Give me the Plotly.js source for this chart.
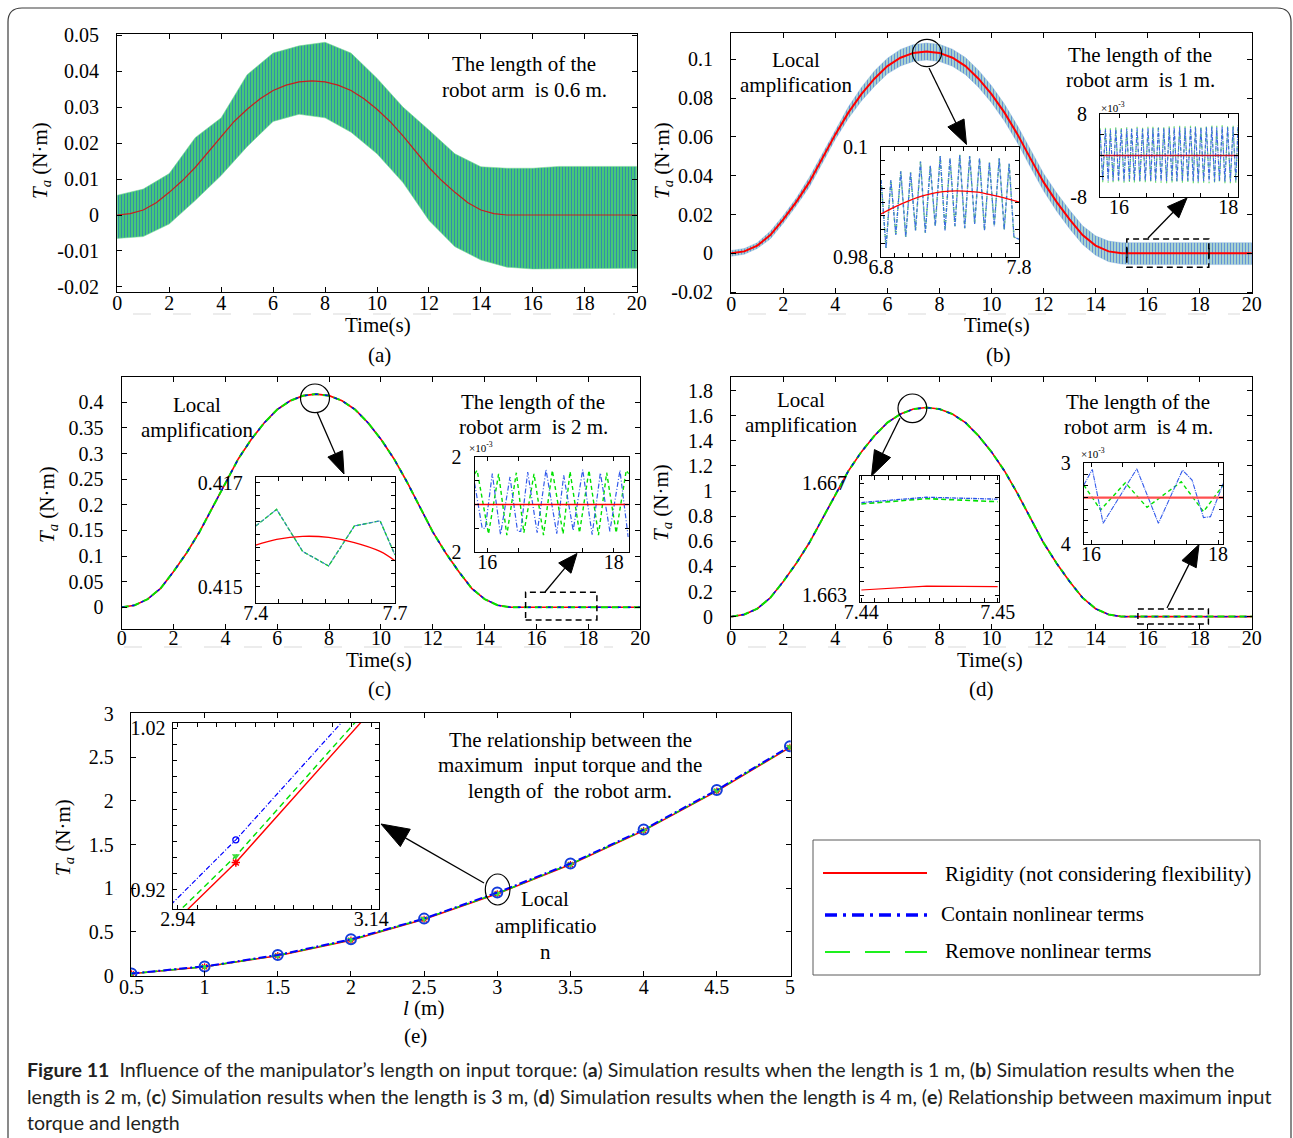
<!DOCTYPE html>
<html><head><meta charset="utf-8">
<script src="https://cdn.plot.ly/plotly-3.0.1.min.js"></script>
<style>html,body{margin:0;padding:0;background:#fff;}#chart{width:1293px;height:1138px;}</style>
</head><body><div id="chart"></div>
<script>
// ---------------- DATA ----------------
const T05 = [0,0.5,1,1.5,2,2.5,3,3.5,4,4.5,5,5.5,6,6.5,7,7.5,8,8.5,9,9.5,10,10.5,11,11.5,12,12.5,13,13.5,14,14.5,15,15.5,16,16.5,17,17.5,18,18.5,19,19.5,20];
const T1 = [0,1,2,3,4,5,6,7,8,9,10,11,12,13,14,15,16,17,18,19,20];

// (a) l = 0.6 m
const aRigid = [0,0.0004,0.0014,0.0034,0.0063,0.0095,0.0132,0.0175,0.022,0.026,0.0294,0.0323,0.0346,0.0361,0.037,0.0373,0.037,0.0361,0.0346,0.0323,0.0294,0.026,0.022,0.0175,0.0132,0.0095,0.0063,0.0034,0.0014,0.0004,0,0,0,0,0,0,0,0,0,0,0];
const aFlexUpper = [0.0055,0.0072,0.0115,0.0215,0.027,0.039,0.045,0.047,0.048,0.045,0.038,0.030,0.0236,0.017,0.0134,0.013,0.013,0.0135,0.0135,0.0135,0.0135];
const aFlexLower = [-0.0065,-0.006,-0.0025,0.004,0.011,0.019,0.026,0.028,0.027,0.023,0.017,0.009,-0.0015,-0.0088,-0.0125,-0.0145,-0.015,-0.015,-0.0148,-0.015,-0.0148];

// (b) l = 1 m
const bRigid = [0,0.001,0.004,0.0094,0.0175,0.0265,0.0367,0.0488,0.0613,0.0725,0.082,0.09,0.0965,0.1008,0.1033,0.104,0.1033,0.1008,0.0965,0.09,0.082,0.0725,0.0613,0.0488,0.0367,0.0265,0.0175,0.0094,0.004,0.001,0,0,0,0,0,0,0,0,0,0,0];
const bFlexUpper = [0.0015,0.0025,0.0055,0.0114,0.0195,0.0285,0.0392,0.0513,0.0638,0.0755,0.0855,0.094,0.1005,0.1051,0.1076,0.1084,0.1077,0.1052,0.1009,0.0944,0.0864,0.0769,0.0657,0.0533,0.0412,0.0312,0.0223,0.0142,0.009,0.0063,0.0055,0.0055,0.0055,0.0055,0.0055,0.0055,0.0055,0.0055,0.0055,0.0055,0.0055];
const bFlexLower = [-0.0015,-0.0005,0.0025,0.0074,0.0155,0.0245,0.0342,0.0463,0.0588,0.0695,0.0785,0.086,0.0925,0.0965,0.0989,0.0996,0.0989,0.0964,0.0921,0.0856,0.0776,0.0681,0.0569,0.0443,0.0322,0.0218,0.0127,0.0046,-0.001,-0.0043,-0.0055,-0.0058,-0.0058,-0.0058,-0.0058,-0.0058,-0.0058,-0.0058,-0.0058,-0.0058,-0.0058];
const b1T = [6.800,6.836,6.871,6.907,6.943,6.979,7.014,7.050,7.086,7.121,7.157,7.193,7.229,7.264,7.300,7.336,7.371,7.407,7.443,7.479,7.514,7.550,7.586,7.621,7.657,7.693,7.729,7.764,7.800];
const b1Flex = [0.0994,0.09816,0.0994,0.0984,0.09956,0.09836,0.09954,0.09848,0.09974,0.09844,0.09966,0.09856,0.09984,0.09848,0.0998,0.09856,0.09986,0.09852,0.09984,0.0986,0.0998,0.09848,0.09972,0.09856,0.0998,0.0985,0.0997,0.09836,0.09832];
const b1RT = [6.8,6.9,7.0,7.1,7.2,7.3,7.4,7.5,7.6,7.7,7.8];
const b1Rigid = [0.09878,0.09891,0.09902,0.09911,0.09917,0.0992,0.0992,0.09918,0.09913,0.09907,0.099];
const b2T = [15.65,15.70,15.75,15.80,15.84,15.89,15.94,15.99,16.04,16.09,16.14,16.19,16.23,16.28,16.33,16.38,16.43,16.48,16.53,16.58,16.62,16.67,16.72,16.77,16.82,16.87,16.92,16.97,17.01,17.06,17.11,17.16,17.21,17.26,17.31,17.36,17.40,17.45,17.50,17.55,17.60,17.65,17.70,17.75,17.79,17.84,17.89,17.94,17.99,18.04,18.09,18.14,18.18];
const b2Blue = [5.0,-4.8,5.1,-4.9,5.0,-4.9,5.2,-4.8,5.1,-5.0,5.2,-4.9,5.2,-4.9,5.3,-5.0,5.2,-4.9,5.3,-5.0,5.3,-4.9,5.4,-5.0,5.3,-5.0,5.4,-4.9,5.4,-5.0,5.5,-5.0,5.4,-4.9,5.5,-5.0,5.5,-5.1,5.4,-5.0,5.5,-5.0,5.6,-5.1,5.5,-5.0,5.6,-5.1,5.5,-5.1,5.6,-5.0,5.6];
const b2Green = [5.3,-5.2,5.4,-5.3,5.3,-5.2,5.5,-5.3,5.4,-5.3,5.5,-5.2,5.5,-5.3,5.6,-5.3,5.5,-5.2,5.6,-5.3,5.6,-5.3,5.7,-5.3,5.6,-5.4,5.7,-5.3,5.7,-5.3,5.8,-5.4,5.7,-5.3,5.8,-5.4,5.8,-5.4,5.7,-5.3,5.8,-5.4,5.9,-5.4,5.8,-5.3,5.9,-5.4,5.8,-5.4,5.9,-5.3,5.9];
const b2RT = [15.65,18.18];
const b2Rigid = [0,0];

// (c) l = 2 m
const cRigid = [0,0.004,0.016,0.037,0.07,0.106,0.147,0.195,0.245,0.29,0.328,0.36,0.386,0.403,0.413,0.416,0.413,0.403,0.386,0.36,0.328,0.29,0.245,0.195,0.147,0.106,0.07,0.037,0.016,0.004,0,0,0,0,0,0,0,0,0,0,0];
const cFlex = cRigid;
const c1T = [7.4,7.445,7.501,7.557,7.6125,7.668,7.7];
const c1Flex = [0.41617,0.41649,0.41568,0.4154,0.41617,0.41627,0.41561];
const c1Rigid = [0.4158,0.41591,0.41597,0.41595,0.41585,0.41568,0.4155];
const c2BlueT = [15.80,15.92,15.97,16.08,16.21,16.36,16.48,16.53,16.64,16.79,16.93,17.10,17.21,17.36,17.51,17.66,17.79,17.94,18.10,18.23];
const c2Blue = [0.9,-1.01,-1.01,1.31,-1.28,1.17,-1.14,-1.14,1.38,-1.2,1.48,-1.24,1.24,-1.1,1.48,-1.28,1.34,-1.14,1.45,-1.38];
const c2GreenT = [15.80,15.84,16.02,16.18,16.31,16.46,16.58,16.74,16.89,17.03,17.20,17.31,17.46,17.61,17.76,17.89,18.04,18.20,18.24];
const c2Green = [1.3,1.45,-1.25,1.3,-1.3,1.35,-1.2,1.3,-1.3,1.45,-1.25,1.4,-1.2,1.45,-1.3,1.35,-1.2,1.45,1.3];
const c2RT = [15.8,18.24];
const c2Rigid = [0,0];

// (d) l = 4 m
const dRigid = [0,0.017,0.063,0.15,0.28,0.425,0.588,0.78,0.98,1.16,1.312,1.44,1.545,1.613,1.653,1.665,1.653,1.613,1.545,1.44,1.312,1.16,0.98,0.78,0.588,0.425,0.28,0.15,0.063,0.017,0,0,0,0,0,0,0,0,0,0,0];
const dFlex = dRigid;
const d1T = [7.44,7.4448,7.45];
const d1Blue = [1.66631,1.6665,1.66643];
const d1Green = [1.66626,1.66645,1.66634];
const d1Rigid = [1.66318,1.66332,1.6633];
const d2BlueT = [15.886,16.02,16.19,16.72,17.06,17.44,17.59,17.77,17.88,18.08];
const d2Blue = [1.08,2.43,-2.22,2.48,-2.22,2.37,1.51,-1.73,-1.65,1.22];
const d2GreenT = [15.886,16.15,16.54,16.88,17.42,17.77,18.08];
const d2Green = [1.08,-1.07,1.28,-0.84,1.36,-1.22,1.08];
const d2RT = [15.886,18.08];
const d2Rigid = [0,0];

// (e) max torque vs length
const eLen = [0.5,1,1.5,2,2.5,3,3.5,4,4.5,5];
const eRigid = [0.020,0.100,0.228,0.405,0.645,0.937,1.272,1.660,2.112,2.612];
const eContain = [0.024,0.105,0.235,0.415,0.652,0.951,1.283,1.672,2.125,2.625];
const eRemove = [0.022,0.102,0.231,0.410,0.650,0.941,1.276,1.665,2.118,2.618];

// tick labels
const tTicks = [0,2,4,6,8,10,12,14,16,18,20];
const tTickText = ['0','2','4','6','8','10','12','14','16','18','20'];
const aYTicks = [-0.02,-0.01,0,0.01,0.02,0.03,0.04,0.05];
const aYText = ['-0.02','-0.01','0','0.01','0.02','0.03','0.04','0.05'];
const bYTicks = [-0.02,0,0.02,0.04,0.06,0.08,0.1];
const bYText = ['-0.02','0','0.02','0.04','0.06','0.08','0.1'];
const cYTicks = [0,0.05,0.1,0.15,0.2,0.25,0.3,0.35,0.4];
const cYText = ['0','0.05','0.1','0.15','0.2','0.25','0.3','0.35','0.4'];
const dYTicks = [0,0.2,0.4,0.6,0.8,1,1.2,1.4,1.6,1.8];
const dYText = ['0','0.2','0.4','0.6','0.8','1','1.2','1.4','1.6','1.8'];
const eXTicks = [0.5,1,1.5,2,2.5,3,3.5,4,4.5,5];
const eXText = ['0.5','1','1.5','2','2.5','3','3.5','4','4.5','5'];
const eYTicks = [0,0.5,1,1.5,2,2.5,3];
const eYText = ['0','0.5','1','1.5','2','2.5','3'];
const b1XTicks = [6.8,6.9,7.0,7.1,7.2,7.3,7.4,7.5,7.6,7.7,7.8];
const b1XText = ['6.8','','','','','','','','','','7.8'];
const b1YTicks = [0.098,0.09825,0.0985,0.09875,0.099,0.09925,0.0995,0.09975,0.1];
const b1YText = ['0.98','','','','','','','','0.1'];
const inset2XTicks = [16,16.5,17,17.5,18];
const inset2XText = ['16','','','','18'];
const b2YTicks = [-8,-4,0,4,8];
const b2YText = ['-8','','','','8'];
const c1XTicks = [7.4,7.45,7.5,7.55,7.6,7.65,7.7];
const c1XText = ['7.4','','','','','','7.7'];
const c1YTicks = [0.415,0.41525,0.4155,0.41575,0.416,0.41625,0.4165,0.41675,0.417];
const c1YText = ['0.415','','','','','','','','0.417'];
const c2YTicks = [-2,-1,0,1,2];
const c2YText = ['2','','','','2'];
const d1XTicks = [7.44,7.441,7.442,7.443,7.444,7.445,7.446,7.447,7.448,7.449,7.45];
const d1XText = ['7.44','','','','','','','','','','7.45'];
const d1YTicks = [1.663,1.6635,1.664,1.6645,1.665,1.6655,1.666,1.6665,1.667];
const d1YText = ['1.663','','','','','','','','1.667'];
const d2YTicks = [-4,-3,-2,-1,0,1,2,3];
const d2YText = ['4','','','','','','','3'];
const e1XTicks = [2.94,2.96,2.98,3.0,3.02,3.04,3.06,3.08,3.10,3.12,3.14];
const e1XText = ['2.94','','','','','','','','','','3.14'];
const e1YTicks = [0.92,0.93,0.94,0.95,0.96,0.97,0.98,0.99,1.0,1.01,1.02];
const e1YText = ['0.92','','','','','','','','','','1.02'];

// ---------------- LAYOUT HELPERS ----------------
const W = 1293, H = 1138;
const SERIF = 'Liberation Serif, Times New Roman, serif';
const RED = 'rgb(255,0,0)', BLUE = 'rgb(0,0,255)', GREEN = 'rgb(0,225,0)';
function px(x){ return x / W; }
function py(y){ return 1 - y / H; }
const layout = {
  width: W, height: H, margin: {l:0, r:0, t:0, b:0},
  paper_bgcolor: 'white', plot_bgcolor: 'white', showlegend: false,
  font: {family: SERIF, color: 'black'}, shapes: [], annotations: []
};
function baseAxis(){
  return {showline:true, linecolor:'black', linewidth:1, mirror:'ticks', ticks:'inside', ticklen:5,
    tickcolor:'black', tickwidth:1, showgrid:false, zeroline:false, fixedrange:true,
    tickfont:{family:SERIF, size:20, color:'black'}, tickmode:'array'};
}
function addAxes(n, box, xr, yr, xo, yo){
  const xn = n === 1 ? 'xaxis' : 'xaxis' + n, yn = n === 1 ? 'yaxis' : 'yaxis' + n;
  const xa = n === 1 ? 'x' : 'x' + n, ya = n === 1 ? 'y' : 'y' + n;
  layout[xn] = Object.assign(baseAxis(), {domain:[px(box[0]), px(box[1])], range:xr, anchor:ya}, xo);
  layout[yn] = Object.assign(baseAxis(), {domain:[py(box[3]), py(box[2])], range:yr, anchor:xa}, yo);
}
const traces = [];
function tr(n, o){
  const xa = n === 1 ? 'x' : 'x' + n, ya = n === 1 ? 'y' : 'y' + n;
  traces.push(Object.assign({type:'scatter', mode:'lines', hoverinfo:'skip', xaxis:xa, yaxis:ya}, o));
}
function txt(x, y, text, size, opts){
  layout.annotations.push(Object.assign({xref:'paper', yref:'paper', x:px(x), y:py(y), text:text,
    showarrow:false, xanchor:'center', yanchor:'middle', font:{family:SERIF, size:size || 21, color:'black'}}, opts || {}));
}
function line(x0, y0, x1, y1, st){
  layout.shapes.push({type:'line', xref:'paper', yref:'paper', x0:px(x0), y0:py(y0), x1:px(x1), y1:py(y1), line:st});
}
function arrow(x0, y0, x1, y1, L, Wd){
  const dx = x1 - x0, dy = y1 - y0, len = Math.hypot(dx, dy), ux = dx / len, uy = dy / len;
  const bx = x1 - ux * L, by = y1 - uy * L, nx = -uy, ny = ux;
  line(x0, y0, bx, by, {color:'black', width:1.3});
  const p = [[x1, y1], [bx + nx * Wd / 2, by + ny * Wd / 2], [bx - nx * Wd / 2, by - ny * Wd / 2]];
  layout.shapes.push({type:'path', xref:'paper', yref:'paper',
    path:'M' + p.map(q => px(q[0]) + ',' + py(q[1])).join(' L') + ' Z', fillcolor:'black', line:{color:'black', width:1}});
}
function ellipse(x0, y0, x1, y1){
  layout.shapes.push({type:'circle', xref:'paper', yref:'paper', x0:px(x0), x1:px(x1), y0:py(y1), y1:py(y0), line:{color:'black', width:1.2}});
}
function drect(x0, y0, x1, y1){
  layout.shapes.push({type:'rect', xref:'paper', yref:'paper', x0:px(x0), x1:px(x1), y0:py(y1), y1:py(y0), line:{color:'black', width:1.5, dash:'6px,4px'}});
}
const mainX = {ticklabelstandoff:-7};
const midX = {ticklabelstandoff:-9};
const mainY = {ticklabelstandoff:13};
const insX = {ticklabelstandoff:-8, ticklen:4};
const insY = {ticklabelstandoff:8, ticklen:4};

// ---------------- (a) ----------------
addAxes(1, [117, 637, 34, 292], [-0.01, 20.01], [-0.0214, 0.0503],
  Object.assign({tickvals:tTicks, ticktext:tTickText}, mainX), Object.assign({tickvals:aYTicks, ticktext:aYText}, mainY));
tr(1, {x:T1, y:aFlexLower, line:{color:'rgba(120,215,150,0.7)', width:0.8}});
tr(1, {x:T1, y:aFlexUpper, fill:'tonexty', line:{color:'rgba(120,215,150,0.7)', width:0.8},
  fillcolor:'rgb(60,185,120)', fillpattern:{shape:'|', bgcolor:'rgb(70,200,120)', fgcolor:'rgb(35,90,210)', fgopacity:0.6, size:3, solidity:0.3}});
tr(1, {x:T05, y:aRigid, line:{color:'rgb(200,30,30)', width:1.2}});

// ---------------- (b) ----------------
addAxes(2, [731, 1252, 33.3, 293.3], [-0.01, 20.01], [-0.0206, 0.1134],
  Object.assign({tickvals:tTicks, ticktext:tTickText}, mainX), Object.assign({tickvals:bYTicks, ticktext:bYText}, mainY));
tr(2, {x:T05, y:bFlexLower, line:{color:'rgba(120,170,220,0.6)', width:0.6}});
tr(2, {x:T05, y:bFlexUpper, fill:'tonexty', line:{color:'rgba(120,170,220,0.6)', width:0.6},
  fillcolor:'rgb(150,190,225)', fillpattern:{shape:'|', bgcolor:'rgb(175,215,205)', fgcolor:'rgb(80,130,220)', fgopacity:0.8, size:3, solidity:0.4}});
tr(2, {x:T05, y:bRigid, line:{color:RED, width:2}});
addAxes(3, [881, 1019, 146.7, 257.3], [6.7995, 7.8005], [0.09799, 0.10001],
  Object.assign({tickvals:b1XTicks, ticktext:b1XText}, insX), Object.assign({tickvals:b1YTicks, ticktext:b1YText}, insY));
tr(3, {x:b1T, y:b1Flex, line:{color:'rgb(130,220,130)', width:1.6, dash:'dot'}});
tr(3, {x:b1T, y:b1Flex, line:{color:'rgb(60,110,225)', width:1.2, dash:'4px,1px,1px,1px'}});
tr(3, {x:b1RT, y:b1Rigid, line:{color:RED, width:1.3, shape:'spline'}});
addAxes(4, [1100, 1238, 114.3, 196.7], [15.65, 18.18], [-8.02, 8.02],
  Object.assign({tickvals:inset2XTicks, ticktext:inset2XText}, insX), Object.assign({tickvals:b2YTicks, ticktext:b2YText}, insY));
tr(4, {x:b2T, y:b2Green, line:{color:'rgb(110,225,110)', width:1.2, dash:'dot'}});
tr(4, {x:b2T, y:b2Blue, line:{color:'rgb(60,100,230)', width:1.1, dash:'4px,1px,1px,1px'}});
tr(4, {x:b2RT, y:b2Rigid, line:{color:'rgb(200,20,40)', width:1.3}});

// ---------------- (c) ----------------
addAxes(5, [121.5, 640.4, 377.3, 629.3], [-0.01, 20.01], [-0.0429, 0.4488],
  Object.assign({tickvals:tTicks, ticktext:tTickText}, midX), Object.assign({tickvals:cYTicks, ticktext:cYText}, mainY));
tr(5, {x:T05, y:cRigid, line:{color:RED, width:1.6}});
tr(5, {x:T05, y:cFlex, line:{color:GREEN, width:2, dash:'7px,4px'}});
tr(5, {x:T05, y:cFlex, line:{color:BLUE, width:1.4, dash:'3px,7px'}});
addAxes(6, [255.7, 395, 476.7, 603.3], [7.3999, 7.7001], [0.41468, 0.41712],
  Object.assign({tickvals:c1XTicks, ticktext:c1XText}, insX), Object.assign({tickvals:c1YTicks, ticktext:c1YText}, insY));
tr(6, {x:c1T, y:c1Flex, line:{color:GREEN, width:1.4, dash:'4px,2px'}});
tr(6, {x:c1T, y:c1Flex, line:{color:'rgb(60,110,225)', width:1, dash:'4px,1px,1px,1px'}});
tr(6, {x:c1T, y:c1Rigid, line:{color:RED, width:1.3, shape:'spline'}});
addAxes(7, [474.6, 628.8, 457.3, 551.7], [15.8, 18.24], [-2.005, 2.005],
  Object.assign({tickvals:inset2XTicks, ticktext:inset2XText}, insX), Object.assign({tickvals:c2YTicks, ticktext:c2YText}, insY));
tr(7, {x:c2GreenT, y:c2Green, line:{color:GREEN, width:1.4, dash:'4px,3px'}});
tr(7, {x:c2BlueT, y:c2Blue, line:{color:'rgb(50,90,235)', width:1.2, dash:'5px,2px,1px,2px'}});
tr(7, {x:c2RT, y:c2Rigid, line:{color:RED, width:1.5}});

// ---------------- (d) ----------------
addAxes(8, [731, 1252, 377.3, 629.3], [-0.01, 20.01], [-0.101, 1.906],
  Object.assign({tickvals:tTicks, ticktext:tTickText}, midX), Object.assign({tickvals:dYTicks, ticktext:dYText}, mainY));
tr(8, {x:T05, y:dRigid, line:{color:RED, width:1.6}});
tr(8, {x:T05, y:dFlex, line:{color:GREEN, width:2, dash:'7px,4px'}});
tr(8, {x:T05, y:dFlex, line:{color:BLUE, width:1.4, dash:'3px,7px'}});
addAxes(9, [860, 999, 476, 602.3], [7.4399, 7.4501], [1.66274, 1.66726],
  Object.assign({tickvals:d1XTicks, ticktext:d1XText}, insX), Object.assign({tickvals:d1YTicks, ticktext:d1YText}, insY));
tr(9, {x:d1T, y:d1Green, line:{color:GREEN, width:1.6, dash:'5px,3px'}});
tr(9, {x:d1T, y:d1Blue, line:{color:'rgb(40,80,235)', width:1.3, dash:'4px,1px,1px,1px'}});
tr(9, {x:d1T, y:d1Rigid, line:{color:RED, width:1.2}});
addAxes(10, [1083.8, 1223.2, 462.7, 544], [15.886, 18.08], [-4.01, 3.01],
  Object.assign({tickvals:inset2XTicks, ticktext:inset2XText}, insX), Object.assign({tickvals:d2YTicks, ticktext:d2YText}, insY));
tr(10, {x:d2GreenT, y:d2Green, line:{color:GREEN, width:1.4, dash:'4px,3px'}});
tr(10, {x:d2BlueT, y:d2Blue, line:{color:'rgb(50,90,235)', width:1.1, dash:'5px,1px,1px,1px'}});
tr(10, {x:d2RT, y:d2Rigid, line:{color:'rgb(255,80,80)', width:2.2}});

// ---------------- (e) ----------------
addAxes(11, [130.7, 790.7, 712.7, 976], [0.495, 5.005], [-0.005, 3.01],
  Object.assign({tickvals:eXTicks, ticktext:eXText}, mainX), Object.assign({tickvals:eYTicks, ticktext:eYText}, {ticklabelstandoff:12}));
tr(11, {x:eLen, y:eRigid, mode:'lines+markers', line:{color:RED, width:1.5},
  marker:{symbol:'asterisk-open', size:6, color:RED, line:{color:RED, width:1.2}}});
tr(11, {x:eLen, y:eRemove, mode:'lines+markers', line:{color:GREEN, width:1.6, dash:'6px,4px'},
  marker:{symbol:'triangle-down', size:7, color:'rgb(60,220,60)'}});
tr(11, {x:eLen, y:eContain, mode:'lines+markers', line:{color:BLUE, width:2, dash:'8px,3px,2px,3px'},
  marker:{symbol:'circle-open', size:10, color:'rgb(20,60,220)', line:{color:'rgb(20,60,220)', width:2}}});
addAxes(12, [172.6, 379, 722.7, 909.3], [2.9346, 3.1481], [0.908, 1.0235],
  Object.assign({tickvals:e1XTicks, ticktext:e1XText}, insX), Object.assign({tickvals:e1YTicks, ticktext:e1YText}, {ticklabelstandoff:2, ticklen:4}));
tr(12, {x:eLen, y:eRigid, mode:'lines+markers', line:{color:RED, width:1.4},
  marker:{symbol:'asterisk-open', size:7, color:RED, line:{color:RED, width:1.5}}});
tr(12, {x:eLen, y:eRemove, mode:'lines+markers', line:{color:GREEN, width:1.4, dash:'6px,4px'},
  marker:{symbol:'triangle-down', size:7, color:'rgb(60,220,60)'}});
tr(12, {x:eLen, y:eContain, mode:'lines+markers', line:{color:BLUE, width:1.2, dash:'5px,2px,1px,2px'},
  marker:{symbol:'circle-open', size:6, color:BLUE, line:{color:BLUE, width:1.3}}});

// ---------------- SHAPES ----------------
(function(){
  const x0 = 8, y0 = 8, x1 = 1291, r = 14;
  layout.shapes.push({type:'path', xref:'paper', yref:'paper', fillcolor:'rgba(0,0,0,0)',
    line:{color:'rgb(60,60,60)', width:1.2},
    path:'M' + px(x0) + ',' + py(1140) + ' L' + px(x0) + ',' + py(y0 + r) + ' Q' + px(x0) + ',' + py(y0) + ' ' + px(x0 + r) + ',' + py(y0) +
      ' L' + px(x1 - r) + ',' + py(y0) + ' Q' + px(x1) + ',' + py(y0) + ' ' + px(x1) + ',' + py(y0 + r) + ' L' + px(x1) + ',' + py(1140)});
})();
const faint = {color:'rgb(236,236,236)', width:2, dash:'18px,22px'};
line(133, 314, 615, 314, faint);
line(748, 314, 1240, 314, faint);
line(124, 647, 613, 647, faint);
line(748, 647, 1240, 647, faint);

// (b) marks
ellipse(912.5, 39.3, 941.5, 66.7);
arrow(929, 68, 966.5, 144.5, 24, 18);
drect(1126.8, 239, 1208.8, 267.3);
line(1127, 248, 1127, 258, {color:'black', width:1.2});
line(1209, 248, 1209, 258, {color:'black', width:1.2});
arrow(1148, 238, 1187, 198, 20, 16);
// (c) marks
ellipse(300.5, 384, 329.5, 412.7);
arrow(317, 412, 344, 474, 22, 16);
drect(525.6, 592.3, 596.9, 620);
arrow(545, 592, 577, 553.5, 19, 16);
// (d) marks
ellipse(898, 394, 926.8, 422.7);
arrow(900, 418, 871.5, 476, 25, 18);
drect(1137.9, 609, 1208.4, 624);
arrow(1167, 608, 1199, 544.5, 22, 16);
// (e) marks
ellipse(485.3, 874, 510, 905);
arrow(484, 883, 381, 824, 28, 20);
// legend box for (e)
layout.shapes.push({type:'rect', xref:'paper', yref:'paper', x0:px(813), x1:px(1260), y0:py(975), y1:py(840), line:{color:'rgb(90,90,90)', width:1}});
line(823, 873, 927, 873, {color:RED, width:2});
line(825, 915, 927, 915, {color:BLUE, width:3.5, dash:'12px,6px,3px,6px'});
line(825, 952, 927, 952, {color:'rgb(30,240,30)', width:2, dash:'25px,15px'});

// ---------------- TEXT ----------------
const yTitle = '<i>T</i><sub><i>a</i></sub> (N·m)';
txt(41, 161, yTitle, 21, {textangle:-90});
txt(663, 161, yTitle, 21, {textangle:-90});
txt(48, 505, yTitle, 21, {textangle:-90});
txt(662, 503, yTitle, 21, {textangle:-90});
txt(64, 838, yTitle, 21, {textangle:-90});
txt(378, 325, 'Time(s)');
txt(997, 325, 'Time(s)');
txt(379, 660, 'Time(s)');
txt(990, 660, 'Time(s)');
txt(423, 1008, '<i>l</i> (m)');
txt(379, 355, '(a)');
txt(998, 355, '(b)');
txt(379, 689, '(c)');
txt(981, 689, '(d)');
txt(415, 1036, '(e)');

txt(524, 64, 'The length of the');
txt(524, 90, 'robot arm\u00a0 is 0.6 m.');
txt(796, 60, 'Local');
txt(796, 85, 'amplification');
txt(1140, 55, 'The length of the');
txt(1140, 80, 'robot arm\u00a0 is 1 m.');
txt(197, 405, 'Local');
txt(197, 430, 'amplification');
txt(533, 402, 'The length of the');
txt(533, 427, 'robot arm\u00a0 is 2 m.');
txt(801, 400, 'Local');
txt(801, 425, 'amplification');
txt(1138, 402, 'The length of the');
txt(1138, 427, 'robot arm\u00a0 is 4 m.');
txt(570, 740, 'The relationship between the');
txt(570, 765, 'maximum\u00a0 input torque and the');
txt(570, 791, 'length of\u00a0 the robot arm.');
txt(545, 899, 'Local');
txt(545, 926, 'amplificatio');
txt(545, 952, 'n');

txt(1113, 107, '×10<sup>-3</sup>', 11);
txt(481, 447, '×10<sup>-3</sup>', 11);
txt(1093, 453, '×10<sup>-3</sup>', 11);

txt(943, 874, 'Rigidity (not considering flexibility)', 21, {xanchor:'left'});
txt(939, 914, 'Contain nonlinear terms', 21, {xanchor:'left'});
txt(943, 951, 'Remove nonlinear terms', 21, {xanchor:'left'});

const CAP = {family:'Lato, Open Sans, sans-serif', size:19.6, color:'rgb(35,31,32)'};
txt(25, 1069, '<b>Figure 11</b>  Influence of the manipulator’s length on input torque: (<b>a</b>) Simulation results when the length is 1 m, (<b>b</b>) Simulation results when the', 19.6, {xanchor:'left', font:CAP});
txt(25, 1096, 'length is 2 m, (<b>c</b>) Simulation results when the length is 3 m, (<b>d</b>) Simulation results when the length is 4 m, (<b>e</b>) Relationship between maximum input', 19.6, {xanchor:'left', font:CAP});
txt(25, 1122, 'torque and length', 19.6, {xanchor:'left', font:CAP});

Plotly.newPlot('chart', traces, layout, {staticPlot:true, displayModeBar:false});
</script>
</body></html>
